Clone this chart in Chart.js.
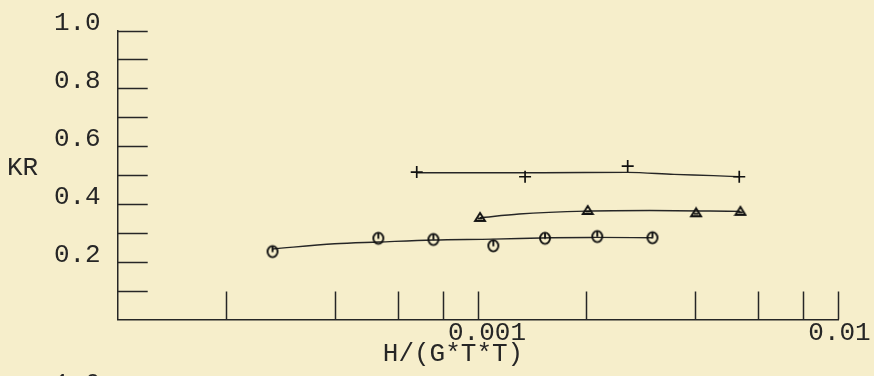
<!DOCTYPE html>
<html><head><meta charset="utf-8">
<script src="https://cdn.jsdelivr.net/npm/chart.js@4/dist/chart.umd.min.js"></script>
<style>html,body{margin:0;padding:0;background:#f6eecb;overflow:hidden}#wrap{width:874px;height:376px;position:relative}</style>
</head><body><div id="wrap"><canvas id="c" width="874" height="376"></canvas></div>
<script>
// ---- data ----
const plusX = [6.76e-4, 1.351e-3, 2.603e-3, 5.31e-3];
const plusY = [0.510, 0.494, 0.531, 0.494];
const plusCurveX = [6.76e-4, 1.5e-3, 2.6e-3, 3.5e-3, 4.5e-3, 5.31e-3];
const plusCurveY = [0.508, 0.508, 0.509, 0.502, 0.498, 0.494];

const triX = [1.013e-3, 2.016e-3, 4.03e-3, 5.35e-3];
const triY = [0.355, 0.379, 0.371, 0.376];
const triCurveX = [1.013e-3, 1.3e-3, 2.0e-3, 3.0e-3, 5.35e-3];
const triCurveY = [0.352, 0.365, 0.375, 0.377, 0.374];

const circX = [2.69e-4, 5.29e-4, 7.52e-4, 1.103e-3, 1.535e-3, 2.143e-3, 3.05e-3];
const circY = [0.235, 0.281, 0.277, 0.255, 0.281, 0.287, 0.283];
const circCurveX = [2.69e-4, 4.0e-4, 5.3e-4, 7.5e-4, 1.1e-3, 1.6e-3, 2.1e-3, 3.05e-3];
const circCurveY = [0.244, 0.262, 0.268, 0.275, 0.278, 0.283, 0.284, 0.283];

const xTickValues = [2e-4, 4e-4, 6e-4, 8e-4, 1e-3, 2e-3, 4e-3, 6e-3, 8e-3, 1e-2];
const xTickLabels = [{v: 1e-3, t: '0.001'}, {v: 1e-2, t: '0.01'}];
const yTickValues = [0.1, 0.2, 0.3, 0.4, 0.5, 0.6, 0.7, 0.8, 0.9, 1.0];
const yTickLabels = [{v: 1.0, t: '1.0'}, {v: 0.8, t: '0.8'}, {v: 0.6, t: '0.6'}, {v: 0.4, t: '0.4'}, {v: 0.2, t: '0.2'}];
const xTitle = 'H/(G*T*T)';
const yTitle = 'KR';

// ---- styling ----
const INK = '#262626';
const FONT = '26px "Liberation Mono", "DejaVu Sans Mono", monospace';

function makeCircleGlyph() {
  const c = document.createElement('canvas'); c.width = 14; c.height = 16;
  const g = c.getContext('2d');
  g.strokeStyle = '#111'; g.lineWidth = 1.9;
  g.beginPath(); g.ellipse(7, 8, 5, 5.6, 0, 0, Math.PI * 2); g.stroke();
  g.beginPath(); g.moveTo(7, 2.5); g.lineTo(7, 8.5); g.stroke();
  return c;
}
function makeTriGlyph() {
  const c = document.createElement('canvas'); c.width = 14; c.height = 12;
  const g = c.getContext('2d');
  g.strokeStyle = '#111'; g.lineWidth = 1.9;
  g.beginPath(); g.moveTo(7, 2); g.lineTo(12, 10); g.lineTo(2, 10); g.closePath(); g.stroke();
  g.beginPath(); g.moveTo(4.5, 7.5); g.lineTo(9.5, 7.5); g.stroke();
  return c;
}

const pts = (xs, ys) => xs.map((x, i) => ({x: x, y: ys[i]}));

const axesPlugin = {
  id: 'plotterAxes',
  afterDraw(chart) {
    const ctx = chart.ctx, xs = chart.scales.x, ys = chart.scales.y;
    const left = xs.left, bottom = ys.bottom;
    ctx.save();
    ctx.strokeStyle = INK; ctx.lineWidth = 1.5;
    // y tick marks (inside, to the right)
    yTickValues.forEach(v => {
      const y = Math.round(ys.getPixelForValue(v)) + 0.5;
      ctx.beginPath(); ctx.moveTo(left, y); ctx.lineTo(left + 30, y); ctx.stroke();
    });
    // x tick marks (inside, upward)
    xTickValues.forEach(v => {
      const x = Math.round(xs.getPixelForValue(v)) + 0.5;
      ctx.beginPath(); ctx.moveTo(x, bottom); ctx.lineTo(x, bottom - 28); ctx.stroke();
    });
    ctx.fillStyle = INK; ctx.font = FONT;
    // y labels
    ctx.textAlign = 'right'; ctx.textBaseline = 'middle';
    yTickLabels.forEach(o => {
      ctx.fillText(o.t, left - 17, ys.getPixelForValue(o.v) - 7);
    });
    // x labels
    ctx.textAlign = 'left'; ctx.textBaseline = 'middle';
    xTickLabels.forEach(o => {
      ctx.fillText(o.t, xs.getPixelForValue(o.v) - 30, bottom + 14);
    });
    // titles
    ctx.textAlign = 'center';
    ctx.fillText(xTitle, 453, bottom + 35);
    ctx.textAlign = 'left';
    ctx.fillText(yTitle, 7, ys.getPixelForValue(0.525));
    // start of next panel, cut by the frame
    ctx.textAlign = 'right'; ctx.textBaseline = 'top';
    ctx.fillText('1.0', left - 17, 371);
    ctx.restore();
  }
};

const lineDs = (data) => ({
  type: 'line', data: data, borderColor: INK, borderWidth: 1.4, pointRadius: 0,
  cubicInterpolationMode: 'monotone', fill: false, order: 2
});
const markDs = (data, style, r) => ({
  type: 'scatter', data: data, pointStyle: style, pointRadius: r, pointBorderColor: '#111',
  pointBackgroundColor: 'rgba(0,0,0,0)', pointBorderWidth: 1.7, order: 1
});

new Chart(document.getElementById('c'), {
  data: {
    datasets: [
      lineDs(pts(plusCurveX, plusCurveY)),
      lineDs(pts(triCurveX, triCurveY)),
      lineDs(pts(circCurveX, circCurveY)),
      markDs(pts(plusX, plusY), 'cross', 6),
      markDs(pts(triX, triY), makeTriGlyph(), 6),
      markDs(pts(circX, circY), makeCircleGlyph(), 6)
    ]
  },
  options: {
    responsive: false, animation: false, devicePixelRatio: 1,
    layout: {padding: {left: 117.7, top: 30.5, right: 35.7, bottom: 56.5}},
    plugins: {legend: {display: false}, tooltip: {enabled: false}},
    scales: {
      x: {type: 'logarithmic', min: 1e-4, max: 1e-2, position: 'bottom',
          grid: {display: false, drawTicks: false}, ticks: {display: false},
          border: {display: true, color: INK, width: 1.5}},
      y: {type: 'linear', min: 0, max: 1, position: 'left',
          grid: {display: false, drawTicks: false}, ticks: {display: false},
          border: {display: true, color: INK, width: 1.5}}
    }
  },
  plugins: [axesPlugin]
});
</script></body></html>
